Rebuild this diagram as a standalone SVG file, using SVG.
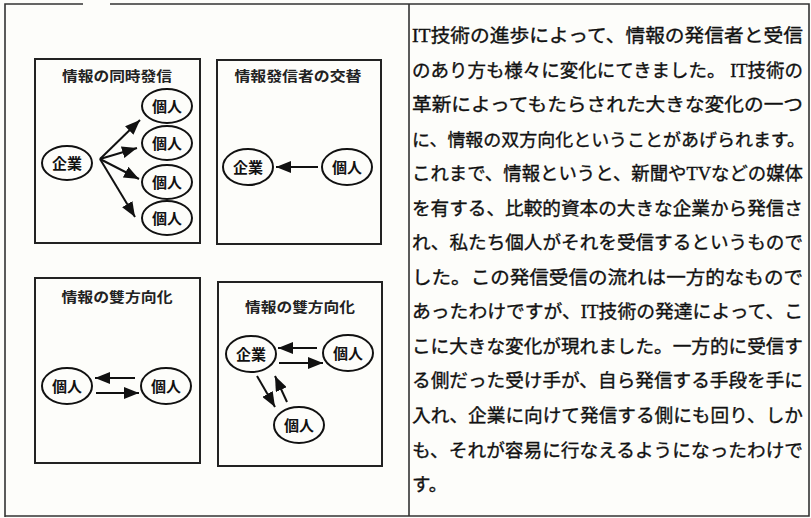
<svg xmlns="http://www.w3.org/2000/svg" width="811" height="518" viewBox="0 0 811 518">
<defs>
<marker id="ah" markerUnits="userSpaceOnUse" markerWidth="15" markerHeight="12" refX="15" refY="6" orient="auto">
<path d="M0,0 L15,6 L0,12 z" fill="#111"/>
</marker>
<style>
.frame{fill:none;stroke:#333;stroke-width:1.6}
.panel{fill:none;stroke:#222;stroke-width:2}
.node{fill:none;stroke:#111;stroke-width:2}
.title{font-family:"Noto Sans CJK JP","Noto Sans CJK SC",sans-serif;font-weight:bold;font-size:14px;fill:#222;text-anchor:middle}
.lbl{font-family:"Noto Sans CJK JP","Noto Sans CJK SC",sans-serif;font-weight:bold;font-size:15px;fill:#111;text-anchor:middle}
.con{stroke:#111;stroke-width:2;fill:none;marker-end:url(#ah)}
.body{font-family:"Liberation Serif","Noto Sans CJK JP",serif;font-size:18.5px;fill:#111;stroke:#111;stroke-width:0.35}
.narrow{font-size:17.5px}
</style>
</defs>
<rect width="811" height="518" fill="#fdfdfa"/>
<g id="frame">
<path class="frame" d="M5,517 L5,4 L83,4 M110,4 L809,4 L809,516 L5,516 M409,4 L409,516"/>
</g>
<g id="panel1">
<rect class="panel" x="35" y="59" width="165" height="184"/>
<text class="title" x="117" y="81" textLength="110" lengthAdjust="spacingAndGlyphs">情報の同時發信</text>
</g>
<g id="panel2">
<rect class="panel" x="217" y="60" width="164" height="184"/>
<text class="title" x="298" y="81" textLength="127" lengthAdjust="spacingAndGlyphs">情報發信者の交替</text>
</g>
<g id="panel3">
<rect class="panel" x="35" y="278" width="165" height="185"/>
<text class="title" x="117" y="302" textLength="111" lengthAdjust="spacingAndGlyphs">情報の雙方向化</text>
</g>
<g id="panel4">
<rect class="panel" x="218" y="282" width="164" height="184"/>
<text class="title" x="300" y="312" textLength="110" lengthAdjust="spacingAndGlyphs">情報の雙方向化</text>
</g>
<g id="p1-kigyo"><ellipse class="node" cx="67" cy="163" rx="25" ry="17"/><text class="lbl" x="67" y="168.5">企業</text></g>
<g id="p1-kojin1"><ellipse class="node" cx="167" cy="106" rx="25" ry="17"/><text class="lbl" x="167" y="111.5">個人</text></g>
<g id="p1-kojin2"><ellipse class="node" cx="167" cy="143" rx="25" ry="17"/><text class="lbl" x="167" y="148.5">個人</text></g>
<g id="p1-kojin3"><ellipse class="node" cx="167" cy="182" rx="25" ry="17"/><text class="lbl" x="167" y="187.5">個人</text></g>
<g id="p1-kojin4"><ellipse class="node" cx="167" cy="218" rx="25" ry="17"/><text class="lbl" x="167" y="223.5">個人</text></g>
<g id="p2-kigyo"><ellipse class="node" cx="248" cy="167" rx="25" ry="18"/><text class="lbl" x="248" y="172.5">企業</text></g>
<g id="p2-kojin"><ellipse class="node" cx="347" cy="167" rx="25" ry="18"/><text class="lbl" x="347" y="172.5">個人</text></g>
<g id="p3-kojin1"><ellipse class="node" cx="67" cy="386" rx="25" ry="18"/><text class="lbl" x="67" y="391.5">個人</text></g>
<g id="p3-kojin2"><ellipse class="node" cx="166" cy="386" rx="25" ry="18"/><text class="lbl" x="166" y="391.5">個人</text></g>
<g id="p4-kigyo"><ellipse class="node" cx="251" cy="354" rx="25" ry="18"/><text class="lbl" x="251" y="359.5">企業</text></g>
<g id="p4-kojin1"><ellipse class="node" cx="348" cy="353" rx="25" ry="18"/><text class="lbl" x="348" y="358.5">個人</text></g>
<g id="p4-kojin2"><ellipse class="node" cx="299" cy="425" rx="25" ry="18"/><text class="lbl" x="299" y="430.5">個人</text></g>
<g id="connectors">
<line class="con" x1="100" y1="159" x2="140" y2="120"/>
<line class="con" x1="100" y1="159" x2="137" y2="148"/>
<line class="con" x1="100" y1="159" x2="139" y2="179"/>
<line class="con" x1="100" y1="159" x2="135" y2="217"/>
<line class="con" x1="318" y1="167" x2="276" y2="167"/>
<line class="con" x1="135" y1="378" x2="95" y2="378"/>
<line class="con" x1="96" y1="393" x2="139" y2="393"/>
<line class="con" x1="317" y1="348" x2="278" y2="348"/>
<line class="con" x1="279" y1="363" x2="323" y2="363"/>
<line class="con" x1="257" y1="376" x2="275" y2="407"/>
<line class="con" x1="287" y1="402" x2="275" y2="376"/>
</g>
<g id="body-text" class="body">
<text x="412" y="42" textLength="391" lengthAdjust="spacingAndGlyphs">IT技術の進歩によって、情報の発信者と受信</text>
<text x="412" y="76.5" textLength="391" lengthAdjust="spacingAndGlyphs">のあり方も様々に変化にてきました。 IT技術の</text>
<text x="412" y="111" textLength="391" lengthAdjust="spacingAndGlyphs">革新によってもたらされた大きな変化の一つ</text>
<text class="narrow" x="412" y="145.6" textLength="393" lengthAdjust="spacingAndGlyphs">に、情報の双方向化ということがあげられます。</text>
<text x="412" y="180" textLength="391" lengthAdjust="spacingAndGlyphs">これまで、情報というと、新聞やTVなどの媒体</text>
<text x="412" y="214.7" textLength="391" lengthAdjust="spacingAndGlyphs">を有する、比較的資本の大きな企業から発信さ</text>
<text x="412" y="249.2" textLength="391" lengthAdjust="spacingAndGlyphs">れ、私たち個人がそれを受信するというもので</text>
<text x="412" y="283.8" textLength="391" lengthAdjust="spacingAndGlyphs">した。この発信受信の流れは一方的なもので</text>
<text x="412" y="318.3" textLength="391" lengthAdjust="spacingAndGlyphs">あったわけですが、IT技術の発達によって、こ</text>
<text x="412" y="352.9" textLength="391" lengthAdjust="spacingAndGlyphs">こに大きな変化が現れました。一方的に受信す</text>
<text x="412" y="387.4" textLength="391" lengthAdjust="spacingAndGlyphs">る側だった受け手が、自ら発信する手段を手に</text>
<text x="412" y="421.9" textLength="391" lengthAdjust="spacingAndGlyphs">入れ、企業に向けて発信する側にも回り、しか</text>
<text x="412" y="456.5" textLength="391" lengthAdjust="spacingAndGlyphs">も、それが容易に行なえるようになったわけで</text>
<text x="412" y="491">す。</text>
</g>
</svg>
